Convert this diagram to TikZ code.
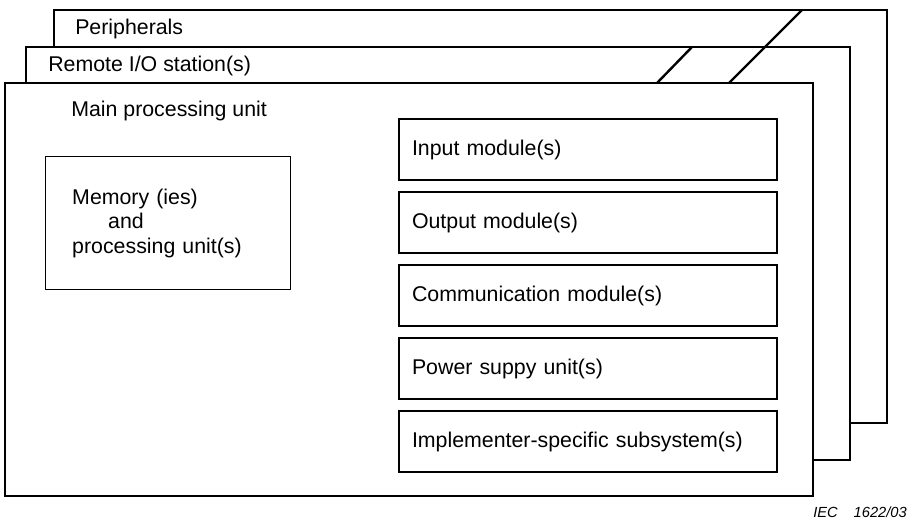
\documentclass[tikz,border=0pt]{standalone}
\usepackage{fontspec}
\setmainfont{Liberation Sans}
\usetikzlibrary{positioning}

\tikzset{
    frame/.style={line width=1.1pt},
    brk/.style={line width=1.8pt},
    lbl/.style={anchor=west, inner sep=0pt, font=\fontsize{16}{18.5}\selectfont},
    modbox/.style={draw, line width=1.1pt, anchor=north west, outer sep=0pt, minimum height=45.75pt,
        text width=264pt, inner xsep=9.75pt, align=left, font=\fontsize{16}{18.5}\selectfont},
}

\begin{document}
\begin{tikzpicture}[x=0.75pt, y=-0.75pt]
        \useasboundingbox (0,0) rectangle (913,524);

        % Peripherals (back frame)
        \draw[frame] (54,47) -- (54,10) -- (887,10) -- (887,423) -- (850,423);
        \node[lbl] (periph) at (75,29) {Peripherals};

        % Remote I/O station(s) (middle frame)
        \draw[frame] (26,83) -- (26,47) -- (850,47) -- (850,460) -- (813,460);
        \node[lbl] (remote) at (48,66) {Remote I/O station(s)};

        % Main processing unit (front frame)
        \draw[frame] (5,83) rectangle (813,496);
        \node[lbl] (mpu) at (71,111) {Main processing unit};

        % break marks
        \draw[brk] (657,83) -- (692,47);
        \draw[brk] (729,83) -- (802,10);

        % Memory and processing unit(s)
        \node[draw, line width=1.1pt, anchor=north west, minimum width=183.75pt,
            minimum height=99.75pt, text width=144pt, inner xsep=19.5pt, align=left,
            font=\fontsize{16}{18.5}\selectfont] (mem) at (45,156)
            {Memory (ies)\\\hspace*{27pt}and\\processing unit(s)};

        % Modules
        \node[modbox] (inp) at (399,119) {Input module(s)};
        \node[modbox, below=9pt of inp] (outp) {Output module(s)};
        \node[modbox, below=9pt of outp] (comm) {Communication module(s)};
        \node[modbox, below=9pt of comm] (pwr) {Power suppy unit(s)};
        \node[modbox, below=9pt of pwr] (impl) {Implementer-specific subsystem(s)};

        % figure number
        \node[anchor=east, inner sep=0pt, font=\fontsize{11}{13}\selectfont\itshape]
            (fig) at (907,512) {IEC\hspace{12pt}1622/03};
    \end{tikzpicture}
\end{document}
